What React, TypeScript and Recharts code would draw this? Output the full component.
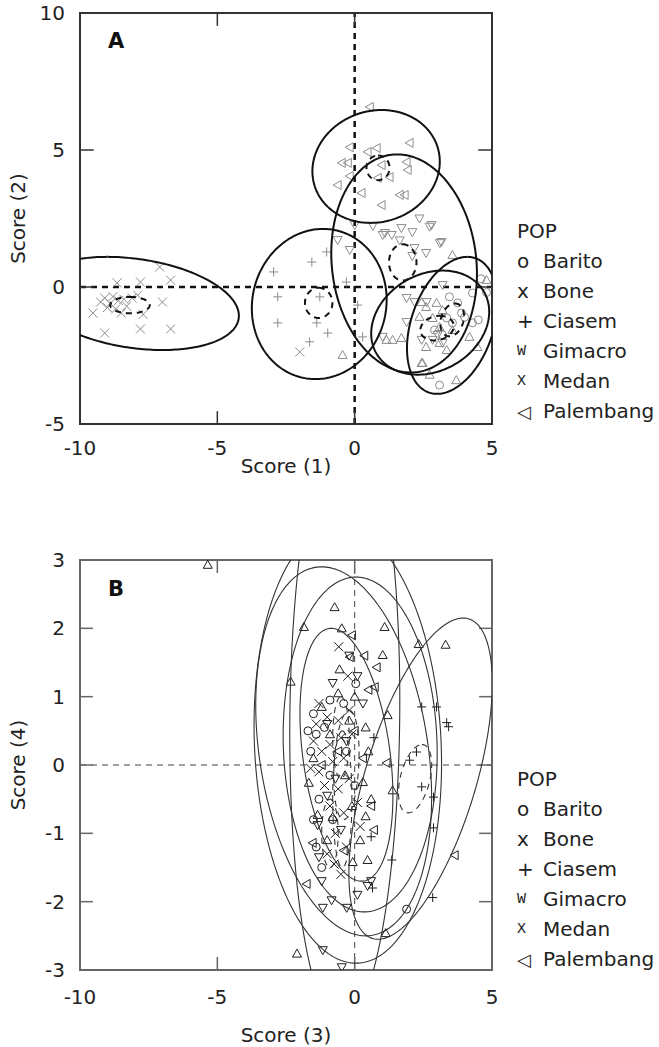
import React from 'react';
import { ScatterChart, Scatter, XAxis, YAxis, ReferenceLine, ReferenceArea } from 'recharts';

type Pt = { x: number; y: number };
// ellipse given by its centre, the offset of its top point, and the half-width of the horizontal chord through the centre
type Ell = { cx: number; cy: number; topDx: number; halfH: number; halfW: number };

const FONT = '"DejaVu Sans", sans-serif';

// ---- panel A : Score (1) vs Score (2)
const baritoA: Pt[] = [
  { x: 3.45, y: -0.36 }, { x: 3.75, y: -0.58 }, { x: 4.29, y: -1.31 }, { x: 3.56, y: -1.31 },
  { x: 3.35, y: -1.13 }, { x: 3.2, y: -1.75 }, { x: 4.29, y: -0.22 }, { x: 3.89, y: -0.95 },
  { x: 3.09, y: -3.58 }, { x: 2.91, y: -1.57 }, { x: 4.6, y: 0.3 }, { x: 4.8, y: -0.2 },
  { x: 4.0, y: -1.1 }, { x: 4.5, y: -1.2 },
];
const boneA: Pt[] = [
  { x: -9.53, y: -0.95 }, { x: -9.1, y: -1.68 }, { x: -8.65, y: 0.15 }, { x: -7.8, y: 0.18 },
  { x: -6.7, y: 0.25 }, { x: -7.1, y: 0.73 }, { x: -7.0, y: -0.55 }, { x: -7.8, y: -1.53 },
  { x: -6.7, y: -1.53 }, { x: -7.7, y: -1.0 }, { x: -7.9, y: -0.3 }, { x: -9.1, y: -0.4 },
  { x: -8.9, y: -0.6 }, { x: -8.8, y: -0.35 }, { x: -8.7, y: -0.8 }, { x: -8.6, y: -0.5 },
  { x: -8.5, y: -0.95 }, { x: -8.4, y: -0.45 }, { x: -9.0, y: -0.75 }, { x: -9.25, y: -0.55 },
  { x: -8.3, y: -0.7 }, { x: -8.1, y: -0.4 }, { x: -2.0, y: -2.37 },
];
const ciasemA: Pt[] = [
  { x: -1.56, y: 0.91 }, { x: -1.02, y: 1.28 }, { x: -2.8, y: -0.36 }, { x: -1.27, y: -0.36 },
  { x: -2.8, y: -1.31 }, { x: -1.38, y: -1.31 }, { x: -0.98, y: -1.68 }, { x: -1.64, y: -2.0 },
  { x: 0.11, y: -0.66 }, { x: 0.29, y: -1.82 }, { x: -0.3, y: 0.18 }, { x: -2.95, y: 0.55 },
];
const gimacroA: Pt[] = [
  { x: 1.02, y: 1.9 }, { x: 1.35, y: 1.9 }, { x: 1.7, y: 2.15 }, { x: 2.36, y: 2.5 },
  { x: 2.8, y: 2.26 }, { x: 2.1, y: 2.0 }, { x: 3.1, y: 1.6 }, { x: 1.64, y: 1.7 },
  { x: 2.18, y: 1.42 }, { x: 2.6, y: 1.24 }, { x: 2.1, y: 1.13 }, { x: -0.62, y: 1.71 },
  { x: -0.18, y: 1.35 }, { x: 0.66, y: 2.23 }, { x: 0.0, y: 2.26 }, { x: 1.1, y: 1.97 },
  { x: 2.73, y: 2.2 }, { x: 3.16, y: 1.64 }, { x: 1.89, y: -0.4 }, { x: 2.18, y: -0.55 },
  { x: 1.89, y: -1.28 }, { x: 1.02, y: -1.82 }, { x: 2.62, y: -0.55 }, { x: 3.2, y: 0.07 },
  { x: 2.44, y: -1.93 }, { x: 2.84, y: -1.93 }, { x: 3.2, y: -2.04 }, { x: 3.02, y: -1.75 },
];
const medanA: Pt[] = [
  { x: 1.16, y: -1.93 }, { x: 1.38, y: -1.93 }, { x: 1.7, y: -1.86 }, { x: -0.44, y: -2.48 },
  { x: 2.36, y: -1.09 }, { x: 2.6, y: -0.73 }, { x: 2.98, y: -0.58 }, { x: 3.2, y: -0.84 },
  { x: 3.56, y: -1.57 }, { x: 4.18, y: -1.82 }, { x: 4.47, y: -2.19 }, { x: 2.44, y: -2.77 },
  { x: 2.73, y: -3.2 }, { x: 2.6, y: -2.19 }, { x: 3.09, y: -2.04 }, { x: 3.35, y: -2.3 },
  { x: 4.8, y: 0.26 }, { x: 2.44, y: -0.55 }, { x: 3.09, y: -1.46 }, { x: 2.84, y: -1.13 },
  { x: 3.56, y: 1.17 }, { x: 2.47, y: -2.77 }, { x: 3.7, y: -3.4 },
];
const palembangA: Pt[] = [
  { x: 0.55, y: 6.57 }, { x: 2.0, y: 5.26 }, { x: -0.18, y: 5.1 }, { x: -0.47, y: 4.53 },
  { x: -0.25, y: 4.53 }, { x: 0.47, y: 4.93 }, { x: 0.8, y: 5.07 }, { x: 0.98, y: 4.45 },
  { x: 1.89, y: 4.56 }, { x: 1.93, y: 4.27 }, { x: -0.62, y: 3.72 }, { x: -0.18, y: 4.05 },
  { x: 0.84, y: 3.98 }, { x: 1.27, y: 4.01 }, { x: 0.25, y: 3.43 }, { x: 1.64, y: 3.36 },
  { x: 1.82, y: 3.36 }, { x: 0.98, y: 2.99 },
];
const ellipsesA: Ell[] = [
  { cx: -8.0, cy: -0.6, topDx: -1.0, halfH: 1.7, halfW: 3.65 },
  { cx: -1.29, cy: -0.62, topDx: 0.14, halfH: 2.74, halfW: 2.45 },
  { cx: 0.78, cy: 4.4, topDx: 0.2, halfH: 2.06, halfW: 2.31 },
  { cx: 1.8, cy: 0.86, topDx: -0.25, halfH: 3.98, halfW: 2.64 },
  { cx: 2.75, cy: -1.3, topDx: 0.45, halfH: 1.9, halfW: 2.1 },
  { cx: 3.55, cy: -1.4, topDx: 0.55, halfH: 2.5, halfW: 1.55 },
];
const meansA: Ell[] = [
  { cx: -8.18, cy: -0.66, topDx: 0, halfH: 0.3, halfW: 0.72 },
  { cx: -1.31, cy: -0.58, topDx: 0, halfH: 0.55, halfW: 0.5 },
  { cx: 0.85, cy: 4.35, topDx: 0, halfH: 0.45, halfW: 0.42 },
  { cx: 1.75, cy: 0.9, topDx: 0, halfH: 0.66, halfW: 0.5 },
  { cx: 3.0, cy: -1.5, topDx: 0.1, halfH: 0.45, halfW: 0.6 },
  { cx: 3.55, cy: -1.2, topDx: 0.1, halfH: 0.6, halfW: 0.42 },
];

// ---- panel B : Score (3) vs Score (4)
const baritoB: Pt[] = [
  { x: 0.04, y: 1.19 }, { x: -1.5, y: 0.75 }, { x: -1.7, y: 0.5 }, { x: -1.4, y: 0.45 },
  { x: -1.6, y: 0.2 }, { x: -0.9, y: 0.95 }, { x: -1.1, y: 0.55 }, { x: -0.4, y: 0.9 },
  { x: -1.3, y: -0.5 }, { x: -1.5, y: -0.8 }, { x: -0.8, y: -0.8 }, { x: -1.2, y: -1.5 },
  { x: -0.3, y: 0.2 }, { x: -1.4, y: -1.2 }, { x: 1.89, y: -2.11 }, { x: -0.9, y: -0.15 },
  { x: 0.0, y: -0.3 },
];
const boneB: Pt[] = [
  { x: -0.58, y: 1.73 }, { x: -0.25, y: 1.3 }, { x: -1.3, y: 0.9 }, { x: -1.0, y: 0.7 },
  { x: -0.6, y: 0.65 }, { x: -0.2, y: 0.8 }, { x: -1.5, y: 0.35 }, { x: -1.2, y: 0.2 },
  { x: -0.9, y: 0.3 }, { x: -0.5, y: 0.4 }, { x: -1.6, y: -0.05 }, { x: -1.3, y: -0.1 },
  { x: -0.8, y: 0.05 }, { x: -0.4, y: 0.1 }, { x: -1.1, y: -0.3 }, { x: -0.6, y: -0.35 },
  { x: -0.2, y: -0.2 }, { x: -0.9, y: -0.6 }, { x: -0.4, y: -0.7 }, { x: 0.1, y: -0.55 },
  { x: -0.7, y: -1.0 }, { x: -0.3, y: -1.2 }, { x: -1.0, y: -1.3 }, { x: -0.5, y: -1.6 },
  { x: 0.2, y: -0.9 }, { x: -1.4, y: 0.6 }, { x: -0.1, y: 0.45 }, { x: -0.75, y: -1.45 },
];
const ciasemB: Pt[] = [
  { x: 2.44, y: 0.85 }, { x: 2.98, y: 0.85 }, { x: 3.35, y: 0.62 }, { x: 3.42, y: 0.56 },
  { x: 2.0, y: 0.07 }, { x: 2.25, y: 0.19 }, { x: 2.44, y: -0.32 }, { x: 2.87, y: -0.47 },
  { x: 2.87, y: -0.92 }, { x: 1.35, y: -1.39 }, { x: 0.65, y: -1.8 }, { x: 2.84, y: -1.94 },
  { x: 0.6, y: -1.05 }, { x: 0.7, y: 0.4 },
];
const gimacroB: Pt[] = [
  { x: -0.47, y: -2.96 }, { x: -1.16, y: -2.71 }, { x: -1.16, y: -2.09 }, { x: -0.84, y: -1.98 },
  { x: -1.35, y: -0.88 }, { x: -0.29, y: -2.09 }, { x: 0.47, y: -1.77 }, { x: -1.0, y: 0.6 },
  { x: -0.3, y: 0.35 }, { x: -0.7, y: -0.2 }, { x: -1.2, y: -1.7 }, { x: -1.3, y: -1.35 },
  { x: 0.1, y: 1.3 }, { x: -0.8, y: 1.2 }, { x: 0.3, y: 0.9 }, { x: -0.5, y: -0.95 },
  { x: 0.1, y: -1.9 }, { x: 0.6, y: -1.7 }, { x: -0.2, y: 1.6 }, { x: -1.0, y: -0.45 },
];
const medanB: Pt[] = [
  { x: -5.35, y: 2.93 }, { x: -0.73, y: 2.31 }, { x: -1.85, y: 2.02 }, { x: -2.33, y: 1.22 },
  { x: -0.47, y: 2.0 }, { x: 1.09, y: 2.02 }, { x: 2.33, y: 1.77 }, { x: 3.31, y: 1.76 },
  { x: 1.02, y: 1.61 }, { x: 1.2, y: 0.73 }, { x: 1.38, y: -0.37 }, { x: -1.67, y: -0.26 },
  { x: -1.35, y: -0.73 }, { x: -0.8, y: -0.76 }, { x: -0.07, y: -1.42 }, { x: -2.1, y: -2.76 },
  { x: 0.47, y: -1.39 }, { x: 1.13, y: -2.46 }, { x: -1.2, y: 0.85 }, { x: -0.6, y: 1.05 },
  { x: -0.9, y: 0.45 }, { x: -0.2, y: 0.65 }, { x: 0.4, y: 0.55 }, { x: -1.5, y: 0.1 },
  { x: -0.35, y: -0.15 }, { x: 0.3, y: -0.25 }, { x: 0.5, y: 0.2 }, { x: -0.1, y: -0.6 },
  { x: 0.4, y: -0.75 }, { x: -1.0, y: -1.1 }, { x: 0.2, y: -1.1 }, { x: 0.6, y: -0.5 },
  { x: -0.55, y: 1.4 }, { x: 0.0, y: 1.0 },
];
const palembangB: Pt[] = [
  { x: 0.8, y: 1.43 }, { x: -0.18, y: 1.58 }, { x: 0.73, y: 1.14 }, { x: 1.16, y: 0.03 },
  { x: -1.75, y: -1.74 }, { x: -1.53, y: -1.14 }, { x: 3.64, y: -1.32 }, { x: -0.1, y: 1.9 },
  { x: 0.35, y: 1.6 }, { x: 0.5, y: 1.1 }, { x: -0.6, y: 0.2 }, { x: 0.3, y: 0.1 },
  { x: 0.6, y: -0.6 }, { x: 0.7, y: -0.95 }, { x: -0.4, y: -1.25 }, { x: 0.0, y: 0.5 },
  { x: -1.2, y: 0.0 },
];
const ellipsesB: Ell[] = [
  { cx: -0.3, cy: 0.15, topDx: -0.55, halfH: 1.85, halfW: 1.6 },
  { cx: -0.4, cy: 0.2, topDx: -0.8, halfH: 2.7, halfW: 3.1 },
  { cx: 0.2, cy: 0.3, topDx: -0.15, halfH: 2.45, halfW: 2.8 },
  { cx: -0.25, cy: 0.3, topDx: -0.3, halfH: 3.2, halfW: 3.4 },
  { cx: -0.36, cy: 0.7, topDx: 0.11, halfH: 4.5, halfW: 2.0 },
  { cx: 2.4, cy: -0.2, topDx: 1.55, halfH: 2.35, halfW: 2.1 },
];
const meansB: Ell[] = [
  { cx: 2.2, cy: -0.2, topDx: 0.25, halfH: 0.5, halfW: 0.55 },
  { cx: -0.45, cy: -0.5, topDx: 0, halfH: 1.0, halfW: 0.35 },
  { cx: -0.5, cy: 0.4, topDx: 0, halfH: 0.6, halfW: 0.3 },
  { cx: -0.3, cy: 0.0, topDx: 0.1, halfH: 0.8, halfW: 0.45 },
  { cx: -0.9, cy: -1.0, topDx: 0, halfH: 0.5, halfW: 0.3 },
];

const xTicks = [-10, -5, 0, 5];
const yTicksA = [-5, 0, 5, 10];
const yTicksB = [-3, -2, -1, 0, 1, 2, 3];
const KINDS = ['o', 'x', '+', 'v', '^', '<'];
const POPS = ['Barito', 'Bone', 'Ciasem', 'Gimacro', 'Medan', 'Palembang'];
const LEGEND_SYMBOLS = ['o', 'x', '+', 'W', 'X', '\u25C1'];

const ellipsePoints = (e: Ell, n = 240): Pt[] =>
  Array.from({ length: n + 1 }, (_, i) => {
    const t = (2 * Math.PI * i) / n;
    return {
      x: e.cx + e.topDx * Math.cos(t) + e.halfW * Math.sin(t),
      y: e.cy + e.halfH * Math.cos(t),
    };
  });

// cut a polyline into the pieces that lie inside the plotting box
function clipToBox(pts: Pt[], x0: number, x1: number, y0: number, y1: number): Pt[][] {
  const inside = (p: Pt) => p.x >= x0 && p.x <= x1 && p.y >= y0 && p.y <= y1;
  const edge = (a: Pt, b: Pt) => {
    // a inside, b outside: bisect for the crossing
    let lo = 0;
    let hi = 1;
    for (let k = 0; k < 30; k++) {
      const m = (lo + hi) / 2;
      const q = { x: a.x + (b.x - a.x) * m, y: a.y + (b.y - a.y) * m };
      if (inside(q)) lo = m;
      else hi = m;
    }
    return { x: a.x + (b.x - a.x) * lo, y: a.y + (b.y - a.y) * lo };
  };
  const out: Pt[][] = [];
  let cur: Pt[] = [];
  if (inside(pts[0])) cur.push(pts[0]);
  for (let i = 1; i < pts.length; i++) {
    const a = pts[i - 1];
    const b = pts[i];
    const ia = inside(a);
    const ib = inside(b);
    if (ia && ib) cur.push(b);
    else if (ia && !ib) {
      cur.push(edge(a, b));
      out.push(cur);
      cur = [];
    } else if (!ia && ib) {
      cur = [edge(b, a), b];
    }
  }
  if (cur.length > 1) out.push(cur);
  return out;
}

function Marker({ cx, cy, kind, color }: any) {
  if (cx == null || cy == null) return <g />;
  const s = 4.5;
  const common = { stroke: color, strokeWidth: 1, fill: 'none' };
  switch (kind) {
    case 'o':
      return <circle cx={cx} cy={cy} r={4} {...common} />;
    case 'x':
      return <path d={`M${cx - s},${cy - s}L${cx + s},${cy + s}M${cx - s},${cy + s}L${cx + s},${cy - s}`} {...common} />;
    case '+':
      return <path d={`M${cx - s},${cy}L${cx + s},${cy}M${cx},${cy - s}L${cx},${cy + s}`} {...common} />;
    case 'v':
      return <path d={`M${cx - s},${cy - 3.5}L${cx + s},${cy - 3.5}L${cx},${cy + 4.5}Z`} {...common} />;
    case '^':
      return <path d={`M${cx - s},${cy + 3.5}L${cx + s},${cy + 3.5}L${cx},${cy - 4.5}Z`} {...common} />;
    default:
      return <path d={`M${cx - 4.5},${cy}L${cx + 3.5},${cy - s}L${cx + 3.5},${cy + s}Z`} {...common} />;
  }
}

const noDot = () => <g />;

function Legend({ top }: { top: number }) {
  return (
    <g fontFamily={FONT} fontSize={20} fill="#222">
      <text x={517} y={top} dominantBaseline="central">POP</text>
      {POPS.map((p, i) => {
        const y = top + 30 * (i + 1);
        const sym = LEGEND_SYMBOLS[i];
        const mono = sym === 'W' || sym === 'X';
        return (
          <g key={p}>
            <text
              x={517}
              y={y}
              dominantBaseline="central"
              fontFamily={mono ? '"Liberation Mono", monospace' : FONT}
              fontSize={mono ? 15 : sym === '\u25C1' ? 18 : 20}
            >
              {sym}
            </text>
            <text x={543} y={y} dominantBaseline="central">{p}</text>
          </g>
        );
      })}
    </g>
  );
}

interface PanelProps {
  height: number;
  marginTop: number;
  yDomain: [number, number];
  yTicks: number[];
  points: Pt[][];
  ellipses: Ell[];
  means: Ell[];
  markColor: string;
  lineColor: string;
  lineWidth: number;
  frameColor: string;
  zeroWidth: number;
  zeroColor: string;
  innerY: number[];
  tickDx: number;
  tickDy: number;
  tickMarginX: number;
  letter: string;
  letterY: number;
  xTitleY: number;
  yTitle: string;
  xTitle: string;
  legendTop: number;
}

function Panel(p: PanelProps) {
  const plotBottom = p.height - 36 - 40;
  const plotTop = p.marginTop;
  const [y0, y1] = p.yDomain;
  const ticks: React.ReactNode[] = [];
  [-5, 0].forEach((t) => {
    ticks.push(<ReferenceLine key={`xb${t}`} segment={[{ x: t, y: y0 }, { x: t, y: y0 + p.tickDy }]} stroke={p.frameColor} strokeWidth={1.5} />);
    ticks.push(<ReferenceLine key={`xt${t}`} segment={[{ x: t, y: y1 }, { x: t, y: y1 - p.tickDy }]} stroke={p.frameColor} strokeWidth={1.5} />);
  });
  p.innerY.forEach((t) => {
    ticks.push(<ReferenceLine key={`yl${t}`} segment={[{ x: -10, y: t }, { x: -10 + p.tickDx, y: t }]} stroke={p.frameColor} strokeWidth={1.5} />);
    ticks.push(<ReferenceLine key={`yr${t}`} segment={[{ x: 5, y: t }, { x: 5 - p.tickDx, y: t }]} stroke={p.frameColor} strokeWidth={1.5} />);
  });
  const solid = p.ellipses.flatMap((e) => clipToBox(ellipsePoints(e), -10, 5, y0, y1));
  const dashed = p.means.flatMap((e) => clipToBox(ellipsePoints(e, 80), -10, 5, y0, y1));
  return (
    <ScatterChart width={659} height={p.height} margin={{ top: p.marginTop, right: 167, bottom: 36, left: 8 }}>
      <XAxis
        type="number"
        dataKey="x"
        domain={[-10, 5]}
        ticks={xTicks}
        allowDataOverflow
        axisLine={false}
        tickLine={false}
        tickSize={0}
        tickMargin={p.tickMarginX}
        height={40}
        tick={{ fill: '#222', fontSize: 20, fontFamily: FONT }}
      />
      <YAxis
        type="number"
        dataKey="y"
        domain={p.yDomain}
        ticks={p.yTicks}
        allowDataOverflow
        axisLine={false}
        tickLine={false}
        tickSize={0}
        tickMargin={15}
        width={72}
        tick={{ fill: '#222', fontSize: 20, fontFamily: FONT }}
      />
      <ReferenceLine x={0} stroke={p.zeroColor} strokeWidth={p.zeroWidth} strokeDasharray="6 5" />
      <ReferenceLine y={0} stroke={p.zeroColor} strokeWidth={p.zeroWidth} strokeDasharray="6 5" />
      {p.points.map((pts, i) => (
        <Scatter
          key={POPS[i]}
          name={POPS[i]}
          data={pts}
          isAnimationActive={false}
          shape={(sp: any) => <Marker cx={sp.cx} cy={sp.cy} kind={KINDS[i]} color={p.markColor} />}
        />
      ))}
      {solid.map((seg, i) => (
        <Scatter
          key={`e${i}`}
          data={seg}
          line={{ stroke: p.lineColor, strokeWidth: p.lineWidth, fill: 'none' }}
          shape={noDot}
          isAnimationActive={false}
          legendType="none"
        />
      ))}
      {dashed.map((seg, i) => (
        <Scatter
          key={`m${i}`}
          data={seg}
          line={{ stroke: p.lineColor, strokeWidth: p.lineWidth, strokeDasharray: '6 5', fill: 'none' }}
          shape={noDot}
          isAnimationActive={false}
          legendType="none"
        />
      ))}
      <ReferenceArea x1={-10} x2={5} y1={y0} y2={y1} fill="none" stroke={p.frameColor} strokeWidth={2} />
      {ticks}
      <text x={108} y={p.letterY} fontFamily={FONT} fontSize={21} fontWeight="bold" fill="#111" dominantBaseline="central">
        {p.letter}
      </text>
      <text x={286} y={p.xTitleY} fontFamily={FONT} fontSize={20} fill="#222" textAnchor="middle" dominantBaseline="central">
        {p.xTitle}
      </text>
      <text
        x={18}
        y={(plotTop + plotBottom) / 2}
        transform={`rotate(-90 18 ${(plotTop + plotBottom) / 2})`}
        fontFamily={FONT}
        fontSize={20}
        fill="#222"
        textAnchor="middle"
        dominantBaseline="central"
      >
        {p.yTitle}
      </text>
      <Legend top={p.legendTop} />
    </ScatterChart>
  );
}

export default function App() {
  return (
    <div style={{ position: 'absolute', left: 0, top: 0, width: 659, height: 1047, background: '#fff' }}>
      <div style={{ position: 'absolute', left: 0, top: 0 }}>
        <Panel
          height={500}
          marginTop={13}
          yDomain={[-5, 10]}
          yTicks={yTicksA}
          points={[baritoA, boneA, ciasemA, gimacroA, medanA, palembangA]}
          ellipses={ellipsesA}
          means={meansA}
          markColor="#8c8c8c"
          lineColor="#111"
          lineWidth={2}
          frameColor="#333"
          zeroWidth={2.5}
          zeroColor="#111"
          innerY={[0, 5]}
          tickDx={0.5}
          tickDy={0.47}
          tickMarginX={17}
          letter="A"
          letterY={41}
          xTitleY={466}
          yTitle="Score (2)"
          xTitle="Score (1)"
          legendTop={231}
        />
      </div>
      <div style={{ position: 'absolute', left: 0, top: 540 }}>
        <Panel
          height={506}
          marginTop={20}
          yDomain={[-3, 3]}
          yTicks={yTicksB}
          points={[baritoB, boneB, ciasemB, gimacroB, medanB, palembangB]}
          ellipses={ellipsesB}
          means={meansB}
          markColor="#1e1e1e"
          lineColor="#333"
          lineWidth={1.1}
          frameColor="#666"
          zeroWidth={1}
          zeroColor="#444"
          innerY={[-2, -1, 0, 1, 2]}
          tickDx={0.47}
          tickDy={0.19}
          tickMarginX={20}
          letter="B"
          letterY={49}
          xTitleY={495}
          yTitle="Score (4)"
          xTitle="Score (3)"
          legendTop={239}
        />
      </div>
    </div>
  );
}
